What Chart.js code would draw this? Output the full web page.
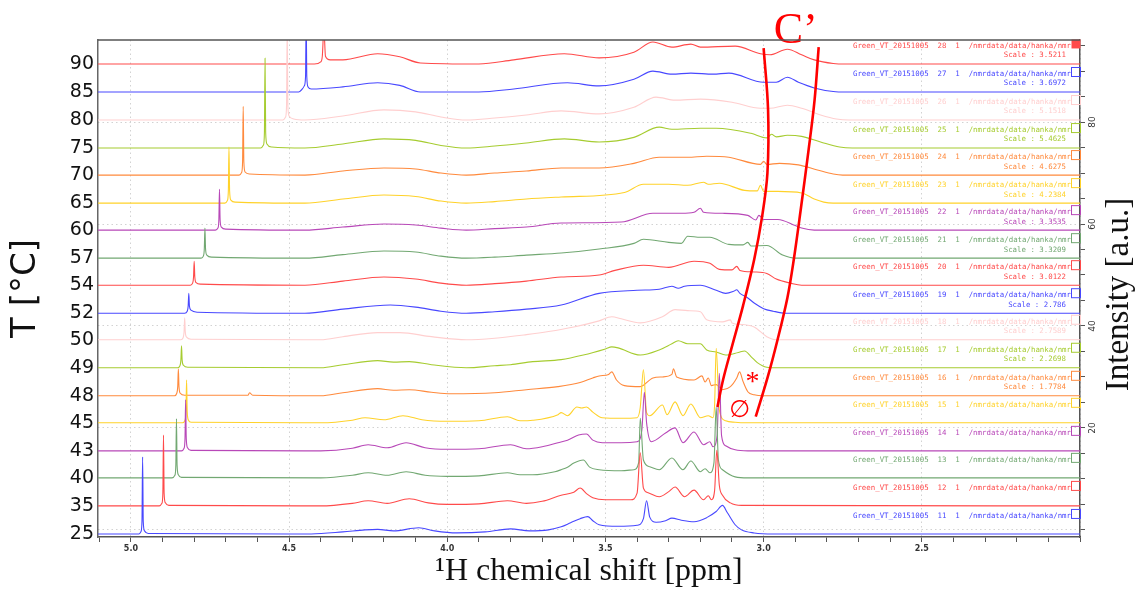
<!DOCTYPE html>
<html>
<head>
<meta charset="utf-8">
<script src="https://cdn.jsdelivr.net/npm/chart.js@4.4.1/dist/chart.umd.min.js"></script>
<style>
  html, body { margin: 0; padding: 0; background: #fff; }
  #wrap { width: 1136px; height: 592px; }
</style>
</head>
<body>
<div id="wrap"><canvas id="nmr"></canvas></div>
<script>
// one trace per temperature, stacked bottom (25 C) to top (90 C)
const temps = ['25', '35', '40', '43', '45', '48', '49', '50', '52', '54', '57', '60', '65', '70', '75', '80', '85', '90'];
const baselines = [-0.8, 4.7, 10.2, 15.5, 21.0, 26.3, 31.8, 37.3, 42.5, 48.0, 53.3, 58.8, 64.1, 69.6, 74.9, 80.4, 85.9, 91.4];
const expNos = [11, 12, 13, 14, 15, 16, 17, 18, 19, 20, 21, 22, 23, 24, 25, 26, 27, 28];
const scaleFactors = [null, null, null, null, null, '1.7784', '2.2698', '2.7589', '2.786', '3.0122',
  '3.3209', '3.3535', '4.2384', '4.6275', '5.4625', '5.1518', '3.6972', '3.5211'];
const colors = ['#4848ff', '#ff4a4a', '#72a872', '#b848b8', '#ffd22a', '#ff8a3d', '#a6cc30', '#ffcfcf',
  '#4848ff', '#ff4a4a', '#72a872', '#b848b8', '#ffd22a', '#ff8a3d', '#a6cc30', '#ffcfcf',
  '#4848ff', '#ff4a4a'];

const xTickValues = [5.1, 5.0, 4.9, 4.8, 4.7, 4.6, 4.5, 4.4, 4.3, 4.2, 4.1, 4.0, 3.9, 3.8, 3.7, 3.6,
  3.5, 3.4, 3.3, 3.2, 3.1, 3.0, 2.9, 2.8, 2.7, 2.6, 2.5, 2.4, 2.3, 2.2, 2.1, 2.0];
const xLabels = [5.0, 4.5, 4.0, 3.5, 3.0, 2.5];
const rightLabels = [20, 40, 60, 80];

// [ppm, intensity above own baseline]
const spec11 = [[5.104,0],[4.975,0],[4.968,0.5],[4.965,2.5],[4.963,15.1],[4.961,2.5],[4.957,0.6],[4.945,0.1],[4.43,0],[4.33,0.4],[4.26,0.8],[4.22,0.9],[4.17,0.6],[4.09,1.2],[4.04,0.6],[3.97,0.2],[3.88,0.4],[3.80,1.0],[3.74,0.6],[3.68,0.8],[3.64,1.4],[3.61,2.2],[3.58,3.0],[3.556,3.4],[3.54,2.6],[3.52,1.8],[3.46,1.5],[3.40,1.7],[3.38,3.0],[3.37,6.5],[3.36,3.3],[3.34,2.3],[3.31,2.6],[3.29,3.1],[3.26,2.7],[3.22,2.4],[3.18,3.2],[3.15,4.4],[3.13,5.6],[3.115,4.2],[3.09,1.8],[3.07,0.8],[3.03,0.2],[2.97,0],[2.0,0]];
const spec12 = [[5.104,0],[4.91,0],[4.902,0.5],[4.899,2.5],[4.897,13.9],[4.895,2.5],[4.891,0.6],[4.88,0.1],[4.40,0],[4.30,0.5],[4.25,1.0],[4.19,0.5],[4.12,1.4],[4.06,0.6],[4.00,0.3],[3.90,0.4],[3.81,1.0],[3.75,0.5],[3.70,0.9],[3.64,2.1],[3.60,2.7],[3.58,3.5],[3.56,2.4],[3.54,1.6],[3.50,1.2],[3.42,1.2],[3.40,2.5],[3.39,10.4],[3.38,3.5],[3.365,2.6],[3.33,1.8],[3.30,2.8],[3.28,3.7],[3.25,1.8],[3.22,3.1],[3.19,1.2],[3.175,2.0],[3.165,1.2],[3.155,3.0],[3.148,10.9],[3.14,4.0],[3.13,2.1],[3.105,0.6],[3.07,0.1],[2.0,0]];
const spec13 = [[5.104,0],[4.87,0],[4.861,0.5],[4.858,2.5],[4.856,11.6],[4.854,2.5],[4.85,0.6],[4.84,0.1],[4.40,0],[4.30,0.5],[4.25,1.0],[4.19,0.5],[4.13,1.2],[4.07,0.5],[4.00,0.3],[3.90,0.4],[3.81,1.0],[3.77,0.6],[3.73,0.6],[3.66,1.2],[3.64,1.6],[3.62,2.1],[3.60,2.9],[3.57,3.5],[3.55,2.1],[3.52,1.6],[3.45,1.4],[3.41,1.6],[3.395,3.0],[3.39,11.7],[3.38,3.5],[3.36,2.2],[3.33,1.6],[3.29,3.9],[3.255,1.6],[3.23,3.3],[3.20,1.2],[3.185,1.8],[3.17,1.0],[3.157,3.0],[3.15,13.9],[3.143,3.5],[3.13,1.6],[3.09,0.2],[3.05,0],[2.0,0]];
const spec14 = [[5.104,0],[4.84,0],[4.832,0.5],[4.829,2.4],[4.827,10.0],[4.825,2.4],[4.821,0.6],[4.81,0.1],[4.40,0],[4.30,0.5],[4.25,1.2],[4.19,0.6],[4.13,1.6],[4.07,0.6],[4.00,0.3],[3.90,0.4],[3.80,1.2],[3.75,0.4],[3.70,0.8],[3.65,1.6],[3.62,2.1],[3.585,3.1],[3.56,3.3],[3.54,2.1],[3.51,1.6],[3.45,1.6],[3.40,1.8],[3.385,4.0],[3.377,11.5],[3.37,5.5],[3.355,1.8],[3.31,3.5],[3.28,4.5],[3.255,1.6],[3.22,3.7],[3.19,1.2],[3.17,1.8],[3.16,0.8],[3.147,3.0],[3.14,15.2],[3.133,3.0],[3.12,1.0],[3.09,0.2],[3.05,0],[2.0,0]];
const spec15 = [[5.104,0],[4.837,0],[4.829,0.5],[4.826,2.2],[4.824,8.4],[4.822,2.2],[4.818,0.5],[4.81,0.1],[4.40,0],[4.30,0.5],[4.26,1.0],[4.20,0.6],[4.14,1.4],[4.08,0.6],[4.00,0.3],[3.90,0.4],[3.81,1.2],[3.77,0.4],[3.73,0.5],[3.65,1.6],[3.64,2.0],[3.62,1.4],[3.59,3.1],[3.575,2.9],[3.56,3.1],[3.54,2.1],[3.51,1.0],[3.45,0.9],[3.40,1.0],[3.39,3.0],[3.38,10.4],[3.37,2.0],[3.36,1.4],[3.32,3.5],[3.305,1.6],[3.28,4.1],[3.255,1.4],[3.23,3.7],[3.20,1.0],[3.175,1.4],[3.16,1.0],[3.155,3.5],[3.15,14.6],[3.14,2.5],[3.12,0.4],[3.09,0.1],[3.05,0],[2.0,0]];
const spec16 = [[5.104,0],[4.862,0],[4.855,0.5],[4.852,1.8],[4.85,5.3],[4.848,1.8],[4.844,0.5],[4.83,0.1],[4.63,0.1],[4.625,0.6],[4.615,0.1],[4.40,0],[4.33,0.6],[4.22,1.4],[4.17,1.1],[4.12,1.2],[4.05,0.7],[3.99,0.4],[3.85,0.6],[3.75,1.2],[3.65,1.8],[3.58,2.6],[3.54,3.5],[3.52,3.9],[3.49,4.2],[3.48,4.7],[3.465,3.1],[3.44,2.0],[3.39,1.8],[3.35,3.5],[3.32,3.7],[3.29,4.2],[3.285,5.3],[3.275,3.7],[3.22,3.1],[3.195,3.9],[3.185,2.7],[3.175,3.5],[3.165,2.0],[3.15,2.2],[3.13,1.2],[3.105,1.8],[3.085,3.5],[3.076,4.7],[3.065,2.8],[3.05,0.8],[3.03,0.2],[3.0,0],[2.0,0]];
const spec17 = [[5.104,0],[4.852,0],[4.845,0.4],[4.842,1.5],[4.84,4.3],[4.838,1.5],[4.834,0.5],[4.82,0.1],[4.40,0],[4.33,0.6],[4.22,1.4],[4.17,1.1],[4.12,1.2],[4.05,0.6],[3.94,0],[3.85,0.4],[3.80,0.6],[3.73,1.2],[3.64,1.6],[3.57,2.5],[3.50,3.7],[3.48,4.1],[3.46,3.9],[3.39,2.5],[3.33,3.5],[3.29,4.7],[3.27,5.3],[3.24,4.7],[3.20,4.7],[3.18,3.5],[3.15,3.1],[3.12,2.5],[3.08,3.0],[3.06,3.3],[3.04,2.2],[3.02,1.0],[2.99,0.1],[2.96,0],[2.0,0]];
const spec18 = [[5.104,0],[4.842,0],[4.835,0.4],[4.832,1.5],[4.83,4.3],[4.828,1.5],[4.824,0.5],[4.81,0.1],[4.40,0],[4.33,0.6],[4.22,1.4],[4.15,1.4],[4.05,0.6],[3.94,0],[3.85,0.3],[3.75,1.0],[3.68,1.6],[3.60,2.5],[3.52,3.7],[3.48,4.5],[3.45,4.1],[3.39,3.3],[3.32,4.5],[3.28,5.9],[3.24,5.7],[3.20,5.5],[3.18,3.9],[3.13,3.5],[3.105,3.9],[3.10,3.3],[3.07,3.0],[3.03,2.5],[2.99,0.6],[2.96,0],[2.0,0]];
const spec19 = [[5.104,0],[4.83,0],[4.822,0.4],[4.819,1.4],[4.817,3.9],[4.815,1.4],[4.81,0.6],[4.79,0.2],[4.45,0],[4.33,0.8],[4.18,1.6],[4.10,1.2],[4.02,0.4],[3.94,0],[3.85,0.3],[3.75,0.8],[3.64,1.6],[3.52,3.9],[3.40,4.5],[3.33,4.7],[3.29,5.3],[3.27,4.9],[3.25,5.3],[3.20,5.5],[3.15,4.5],[3.12,3.9],[3.095,4.3],[3.085,4.6],[3.075,3.9],[3.05,3.0],[3.03,2.0],[3.00,0.9],[2.97,0.4],[2.93,0],[2.0,0]];
const spec20 = [[5.104,0],[4.812,0],[4.805,0.4],[4.802,1.6],[4.80,4.7],[4.798,1.6],[4.794,0.5],[4.78,0.2],[4.45,0],[4.33,0.8],[4.20,1.6],[4.10,1.2],[4.02,0.4],[3.94,0],[3.85,0.3],[3.75,0.8],[3.64,1.6],[3.52,2.0],[3.47,2.9],[3.38,3.9],[3.30,3.5],[3.22,4.7],[3.17,4.3],[3.14,3.1],[3.10,3.0],[3.085,3.7],[3.075,2.9],[3.03,2.6],[2.99,2.3],[2.96,1.2],[2.915,0.4],[2.88,0],[2.0,0]];
const spec21 = [[5.104,0],[4.778,0],[4.771,0.4],[4.768,1.8],[4.766,5.9],[4.764,1.8],[4.76,0.6],[4.745,0.2],[4.45,0],[4.33,0.7],[4.20,1.4],[4.10,1.2],[4.02,0.4],[3.94,0],[3.85,0.2],[3.75,0.6],[3.64,1.0],[3.52,1.8],[3.41,2.9],[3.38,3.7],[3.30,3.1],[3.26,2.9],[3.24,4.3],[3.20,4.1],[3.17,4.1],[3.11,2.7],[3.065,2.6],[3.05,3.1],[3.04,2.4],[2.99,2.5],[2.94,0.6],[2.90,0],[2.0,0]];
const spec22 = [[5.104,0],[4.733,0],[4.725,0.4],[4.722,2.0],[4.72,8.0],[4.718,2.0],[4.714,0.6],[4.70,0.2],[4.45,0],[4.33,0.6],[4.20,1.2],[4.10,1.0],[4.02,0.4],[3.94,0],[3.85,0.3],[3.75,0.6],[3.64,1.4],[3.45,1.6],[3.35,3.3],[3.26,3.3],[3.22,3.5],[3.20,4.3],[3.19,3.5],[3.13,3.3],[3.05,2.9],[3.025,2.0],[3.015,2.9],[3.00,2.1],[2.955,2.1],[2.90,0.9],[2.88,0.4],[2.84,0],[2.0,0]];
const spec23 = [[5.104,0],[4.703,0],[4.695,0.5],[4.692,2.4],[4.69,11.0],[4.688,2.4],[4.684,0.6],[4.67,0.2],[4.45,0],[4.33,0.8],[4.20,1.6],[4.10,1.3],[4.02,0.4],[3.94,0],[3.85,0.3],[3.75,0.8],[3.64,1.2],[3.44,2.1],[3.38,3.7],[3.30,3.7],[3.24,3.5],[3.19,4.1],[3.175,3.7],[3.14,3.9],[3.06,2.5],[3.02,2.4],[3.01,3.5],[3.00,2.3],[2.955,2.3],[2.88,2.0],[2.84,0.8],[2.81,0.2],[2.78,0],[2.0,0]];
const spec24 = [[5.104,0],[4.658,0],[4.65,0.5],[4.647,2.6],[4.645,13.5],[4.643,2.6],[4.639,0.6],[4.625,0.2],[4.45,0],[4.33,0.8],[4.20,1.4],[4.10,1.2],[4.02,0.4],[3.94,0],[3.85,0.4],[3.75,0.8],[3.64,1.4],[3.52,1.4],[3.41,2.3],[3.33,3.5],[3.24,3.5],[3.18,3.7],[3.11,3.5],[3.01,2.1],[3.00,2.7],[2.99,2.1],[2.95,2.3],[2.89,2.0],[2.83,1.0],[2.78,0.2],[2.75,0],[2.0,0]];
const spec25 = [[5.104,0],[4.59,0],[4.581,0.6],[4.578,3.0],[4.576,17.6],[4.574,3.0],[4.57,0.8],[4.555,0.2],[4.45,0],[4.33,0.8],[4.20,1.8],[4.10,1.5],[4.02,0.5],[3.94,0],[3.85,0.4],[3.75,1.0],[3.63,1.8],[3.52,1.2],[3.41,2.1],[3.33,4.1],[3.29,3.7],[3.20,3.9],[3.15,3.9],[3.04,2.9],[2.99,2.0],[2.975,2.7],[2.96,2.2],[2.925,2.5],[2.88,2.3],[2.82,1.2],[2.76,0.2],[2.72,0],[2.0,0]];
const spec26 = [[5.104,0],[4.52,0],[4.511,0.6],[4.508,3.0],[4.506,18],[4.504,3.0],[4.50,0.8],[4.485,0.2],[4.45,0],[4.33,0.8],[4.20,2.0],[4.10,1.6],[4.02,0.6],[3.94,0],[3.85,0.4],[3.75,1.0],[3.64,1.8],[3.52,1.2],[3.41,2.5],[3.34,4.5],[3.28,3.9],[3.20,4.1],[3.10,3.5],[3.01,2.3],[2.98,2.3],[2.925,2.9],[2.88,2.3],[2.82,1.0],[2.77,0.2],[2.73,0],[2.0,0]];
const spec27 = [[5.104,0],[4.47,0],[4.458,0.6],[4.452,1.2],[4.448,3.0],[4.446,14],[4.444,3.0],[4.44,1.0],[4.43,0.6],[4.33,1.0],[4.22,1.8],[4.15,1.3],[4.085,0],[3.90,0],[3.79,0.6],[3.62,1.8],[3.52,1.2],[3.41,2.5],[3.35,4.1],[3.29,3.5],[3.23,3.7],[3.16,3.5],[3.11,3.7],[3.00,1.9],[2.96,1.9],[2.925,2.9],[2.89,1.9],[2.84,0.8],[2.78,0.1],[2.74,0],[2.0,0]];
const spec28 = [[5.104,0],[4.42,0],[4.40,0.4],[4.395,1.5],[4.39,7],[4.385,1.5],[4.37,0.8],[4.33,0.8],[4.22,2.0],[4.15,1.4],[4.085,0.2],[3.90,0],[3.79,0.8],[3.63,2.0],[3.52,1.2],[3.41,2.3],[3.35,4.3],[3.29,3.3],[3.23,3.9],[3.20,3.3],[3.09,3.5],[3.01,2.0],[2.98,1.8],[2.925,2.9],[2.88,1.8],[2.84,0.8],[2.78,0.1],[2.74,0],[2.0,0]];
const spectra = [spec11, spec12, spec13, spec14, spec15, spec16, spec17, spec18, spec19,
  spec20, spec21, spec22, spec23, spec24, spec25, spec26, spec27, spec28];

// hand drawn C' guide lines, [ppm, intensity]
const cLineA = [[3.000,94.5],[2.986,82.4],[2.988,70.0],[3.005,61.4],[3.030,53.0],[3.065,44.0],[3.100,36.0],[3.128,29.5],[3.146,24.1]];
const cLineB = [[2.826,94.7],[2.839,84.3],[2.858,74.5],[2.883,62.7],[2.905,52.9],[2.925,45.5],[2.956,37.3],[2.987,30.0],[3.025,22.2]];
const marks = [{ text: '*', ppm: 3.035, y: 29.8 }, { text: '\u2205', ppm: 3.076, y: 23.9 }];

const isMajor = v => Math.abs(v * 2 - Math.round(v * 2)) < 1e-6;

const datasets = spectra.map((pts, i) => ({
  data: pts.map(([p, h]) => ({ x: p, y: baselines[i] + h })),
  borderColor: colors[i],
  borderWidth: 1.1,
  pointRadius: 0,
  fill: false,
  cubicInterpolationMode: 'monotone',
  order: 2
}));
[cLineA, cLineB].forEach(line => datasets.push({
  data: line.map(([p, v]) => ({ x: p, y: v })),
  borderColor: '#ff0000',
  borderWidth: 2.6,
  pointRadius: 0,
  fill: false,
  tension: 0.35,
  order: 0
}));

const decor = {
  id: 'decor',
  afterDatasetsDraw(chart) {
    const { ctx, chartArea: a, scales } = chart;
    const y = scales.y, x = scales.x, y2 = scales.y2;
    ctx.save();

    // experiment labels + boxes on the right
    ctx.font = '7.4px "DejaVu Sans Mono"';
    ctx.textBaseline = 'middle';
    ctx.textAlign = 'right';
    baselines.forEach((b, i) => {
      const py = y.getPixelForValue(b);
      ctx.fillStyle = colors[i];
      ctx.fillText('Green_VT_20151005  ' + expNos[i] + '  1  /nmrdata/data/hanka/nmr', a.right - 9, py - 18);
      if (scaleFactors[i]) ctx.fillText('Scale : ' + scaleFactors[i], a.right - 14, py - 8.5);
      ctx.strokeStyle = colors[i];
      ctx.lineWidth = 1;
      if (i === baselines.length - 1) ctx.fillRect(a.right - 8.5, py - 24.5, 9, 9);
      else ctx.strokeRect(a.right - 8.5, py - 24.5, 9, 9);
    });

    // star and empty-set marks
    ctx.fillStyle = '#ff0000';
    ctx.textAlign = 'center';
    ctx.textBaseline = 'alphabetic';
    marks.forEach(m => {
      ctx.font = m.text === '*' ? '28px "Liberation Serif"' : '24px "DejaVu Sans"';
      const mt = ctx.measureText(m.text);
      const cx = x.getPixelForValue(m.ppm), cy = y.getPixelForValue(m.y);
      ctx.fillText(m.text, cx, cy + (mt.actualBoundingBoxAscent - mt.actualBoundingBoxDescent) / 2);
    });
    ctx.font = '44px "Liberation Serif"';
    ctx.textAlign = 'left';
    ctx.fillText('C\u2019', x.getPixelForValue(2.968), a.top + 3);

    // right intensity axis labels and title
    ctx.fillStyle = '#333';
    ctx.font = '9px "DejaVu Sans"';
    ctx.textAlign = 'center';
    ctx.textBaseline = 'middle';
    rightLabels.forEach(v => {
      ctx.save();
      ctx.translate(a.right + 13, y2.getPixelForValue(v));
      ctx.rotate(-Math.PI / 2);
      ctx.fillText(String(v), 0, 0);
      ctx.restore();
    });
    ctx.save();
    ctx.fillStyle = '#111';
    ctx.font = '33px "Liberation Serif"';
    ctx.textBaseline = 'alphabetic';
    ctx.translate(a.right + 48, (a.top + a.bottom) / 2 + 6);
    ctx.rotate(-Math.PI / 2);
    ctx.fillText('Intensity [a.u.]', 0, 0);
    ctx.restore();

    // top frame line
    ctx.strokeStyle = '#555';
    ctx.lineWidth = 1.5;
    ctx.beginPath();
    ctx.moveTo(a.left, a.top);
    ctx.lineTo(a.right, a.top);
    ctx.stroke();
    ctx.restore();
  }
};

new Chart(document.getElementById('nmr'), {
  type: 'line',
  data: { datasets },
  options: {
    responsive: true,
    maintainAspectRatio: false,
    animation: false,
    layout: { padding: { top: 40 } },
    plugins: { legend: { display: false }, tooltip: { enabled: false } },
    scales: {
      x: {
        type: 'linear',
        reverse: true,
        min: 2.0,
        max: 5.104,
        afterBuildTicks: s => { s.ticks = xTickValues.map(v => ({ value: v })); },
        afterFit: s => { s.height = 55; },
        ticks: {
          autoSkip: false,
          maxRotation: 0,
          padding: 2,
          color: '#333',
          font: { family: 'DejaVu Sans', size: 8, weight: 'bold' },
          callback: v => (xLabels.some(l => Math.abs(l - v) < 1e-6) ? v.toFixed(1) : '')
        },
        grid: {
          color: c => (isMajor(c.tick.value) ? '#d2d2d2' : 'rgba(0,0,0,0)'),
          tickColor: '#555',
          tickLength: 5,
          lineWidth: 1
        },
        border: { color: '#555', width: 1.5, dash: [1.5, 3] },
        title: {
          display: true,
          text: '\u00B9H chemical shift [ppm]',
          color: '#111',
          font: { family: 'Liberation Serif', size: 32 },
          padding: { top: 0, bottom: 1 }
        }
      },
      y: {
        position: 'left',
        min: -1.4,
        max: 96.1,
        afterBuildTicks: s => { s.ticks = baselines.map(v => ({ value: v })); },
        afterFit: s => { s.width = 98; },
        ticks: {
          autoSkip: false,
          padding: 4,
          color: '#111',
          font: { family: 'DejaVu Sans', size: 19 },
          callback: (v, i) => temps[i]
        },
        grid: { display: false, drawTicks: false },
        border: { display: true, color: '#666', width: 1.5 },
        title: {
          display: true,
          text: 'T [\u00B0C]',
          color: '#111',
          font: { family: 'DejaVu Sans', size: 34 },
          padding: { top: 6, bottom: 0 }
        }
      },
      y2: {
        position: 'right',
        min: -1.4,
        max: 96.1,
        afterFit: s => { s.width = 56; },
        ticks: { stepSize: 5, includeBounds: false, display: false },
        grid: {
          color: c => (Math.abs(c.tick.value % 20) < 1e-6 ? '#d2d2d2' : 'rgba(0,0,0,0)'),
          tickColor: '#555',
          tickLength: 5,
          lineWidth: 1
        },
        border: { color: '#555', width: 1.5, dash: [1.5, 3] }
      }
    }
  },
  plugins: [decor]
});
</script>
</body>
</html>
